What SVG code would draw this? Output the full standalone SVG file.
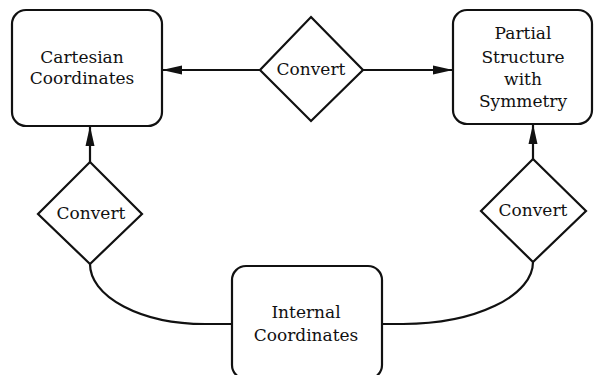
<svg xmlns="http://www.w3.org/2000/svg" width="595" height="375" viewBox="0 0 595 375">
  <defs>
    <style>
      .box { fill: #fff; stroke: #111; stroke-width: 2.2; }
      .dia { fill: #fff; stroke: #111; stroke-width: 2.2; stroke-linejoin: miter; }
      .lbl { font-family: "DejaVu Serif", "Liberation Serif", serif; font-size: 17px; fill: #111; text-anchor: middle; }
      .edge { fill: none; stroke: #111; stroke-width: 2.2; }
    </style>
    <marker id="arr" markerUnits="userSpaceOnUse" markerWidth="22" markerHeight="12" refX="20" refY="5" orient="auto">
      <path d="M0,0.5 L20,5 L0,9.5 Z" fill="#111"/>
    </marker>
  </defs>
  <rect width="595" height="375" fill="#fff"/>

  <g id="connectors">
    <line class="edge" x1="260" y1="70" x2="162" y2="70" marker-end="url(#arr)"/>
    <line class="edge" x1="363" y1="70" x2="453" y2="70" marker-end="url(#arr)"/>
    <line class="edge" x1="90" y1="162" x2="90" y2="126" marker-end="url(#arr)"/>
    <line class="edge" x1="533" y1="159" x2="533" y2="124" marker-end="url(#arr)"/>
    <path class="edge" d="M90,264 A115,60 0 0 0 205,324 L232,324"/>
    <path class="edge" d="M382,324 L403,324 A130,62 0 0 0 533,262"/>
  </g>

  <g id="cartesian">
    <rect class="box" x="12" y="10" width="150" height="116" rx="14" ry="14"/>
    <text class="lbl" x="82" y="63">Cartesian</text>
    <text class="lbl" x="82" y="84">Coordinates</text>
  </g>

  <g id="partial">
    <rect class="box" x="453" y="10" width="139" height="114" rx="14" ry="14"/>
    <text class="lbl" x="523" y="39">Partial</text>
    <text class="lbl" x="523" y="63">Structure</text>
    <text class="lbl" x="523" y="85">with</text>
    <text class="lbl" x="523" y="107">Symmetry</text>
  </g>

  <g id="internal">
    <rect class="box" x="232" y="266" width="150" height="113" rx="14" ry="14"/>
    <text class="lbl" x="306" y="318">Internal</text>
    <text class="lbl" x="306" y="341">Coordinates</text>
  </g>

  <g id="convert-top">
    <polygon class="dia" points="311,17 363,70 311,121 260,70"/>
    <text class="lbl" x="311" y="75">Convert</text>
  </g>

  <g id="convert-left">
    <polygon class="dia" points="90,162 142,214 90,264 38,214"/>
    <text class="lbl" x="91" y="219">Convert</text>
  </g>

  <g id="convert-right">
    <polygon class="dia" points="533,159 586,211 533,262 481,211"/>
    <text class="lbl" x="533" y="216">Convert</text>
  </g>
</svg>
